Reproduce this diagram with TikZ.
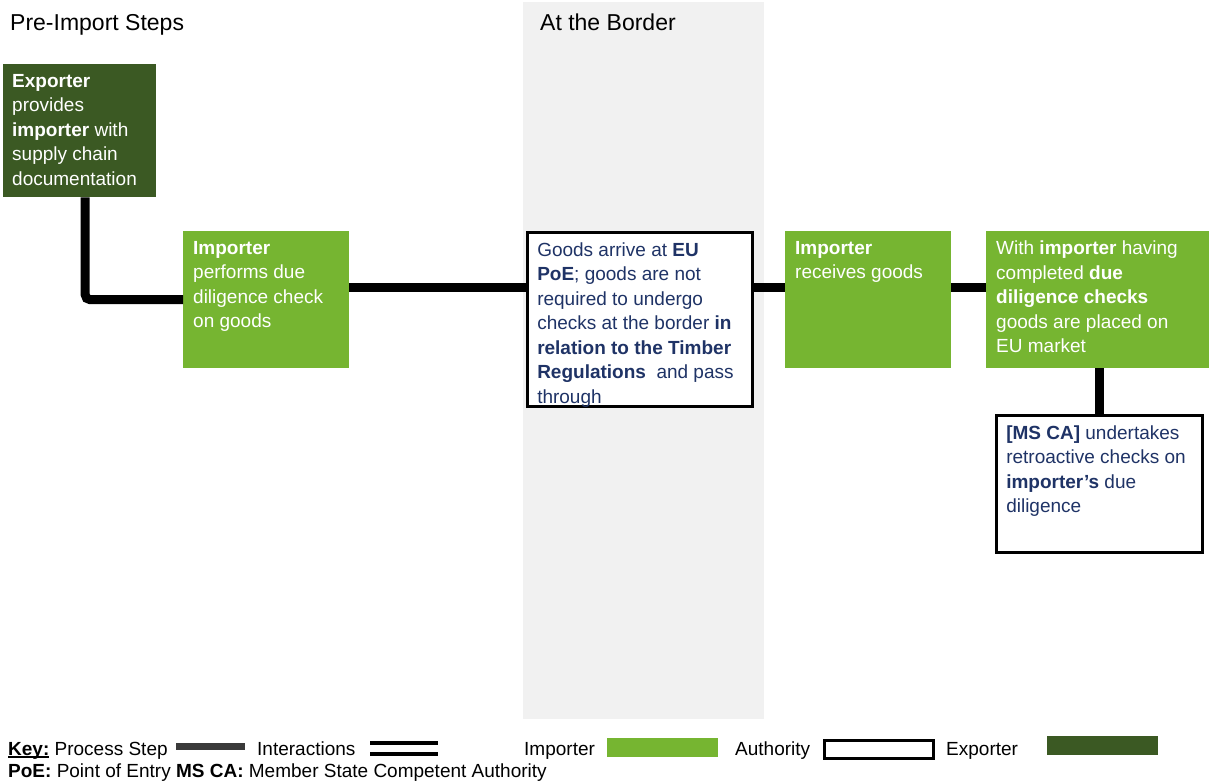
\documentclass[tikz,border=0pt]{standalone}
\usepackage{fontspec}
\setmainfont{Liberation Sans}
\usepackage{xcolor}
\usepackage{tikz}

\definecolor{impgreen}{HTML}{76B531}
\definecolor{expgreen}{HTML}{3B5923}
\definecolor{authnavy}{HTML}{1F3366}
\definecolor{bordergray}{HTML}{F1F1F1}
\definecolor{stepgray}{HTML}{3A3A3A}

\newcommand{\cellbody}[3]{\parbox[t][#1][t]{#2}{\raggedright #3}}
\newcommand{\keyrule}[1]{\setbox0\hbox{#1}\rlap{\rule[-2.5pt]{\wd0}{1.4pt}}\box0\relax}

\tikzset{
    boxbase/.style={font=\fontsize{19}{24.5}\selectfont, anchor=north west, inner xsep=10pt, inner ysep=10pt},
    importer/.style={boxbase, fill=impgreen, text=white},
    exporter/.style={boxbase, fill=expgreen, text=white, inner xsep=9pt},
    authority/.style={boxbase, fill=white, draw=black, line width=2.5pt, text=authnavy},
    process/.style={line width=9pt, black},
    heading/.style={font=\fontsize{23}{27}\selectfont, anchor=base west, inner sep=0pt},
    legend/.style={font=\fontsize{19}{24}\selectfont, anchor=base west, inner sep=0pt},
    swatch/.style={anchor=north west, inner sep=0pt, minimum width=111pt, minimum height=19pt}
}

\begin{document}
\begin{tikzpicture}[x=1pt, y=-1pt]
    \useasboundingbox (0,0) rectangle (1210,782);

    % Border column
    \fill[bordergray] (523,2) rectangle (764,719);

    % Headings
    \node[heading] (pre) at (10,30) {Pre-Import Steps};
    \node[heading] (border) at (540,30) {At the Border};

    % Steps
    \node[exporter] (exp) at (3,64) {\cellbody{113pt}{135pt}{\textbf{Exporter}\\ provides\\ \textbf{importer} with\\ supply chain\\ documentation}};
    \node[importer] (imp1) at (183,231) {\cellbody{117pt}{146pt}{\textbf{Importer}\\ performs due\\ diligence check\\ on goods}};
    \node[authority] (auth1) at (526,231) {\cellbody{154pt}{205pt}{Goods arrive at \textbf{EU}\\ \textbf{PoE}; goods are not\\ required to undergo\\ checks at the border \textbf{in}\\ \textbf{relation to the Timber}\\ \textbf{Regulations}\ \ and pass\\ through}};
    \node[importer] (imp2) at (785,231) {\cellbody{117pt}{146pt}{\textbf{Importer}\\ receives goods}};
    \node[importer] (imp3) at (986,231) {\cellbody{117pt}{203pt}{With \textbf{importer} having\\ completed \textbf{due}\\ \textbf{diligence checks}\\ goods are placed on\\ EU market}};
    \node[authority] (auth2) at (995,414) {\cellbody{117pt}{186pt}{\textbf{[MS CA]} undertakes\\ retroactive checks on\\ \textbf{importer’s} due\\ diligence}};

    % Process line
    \coordinate (flow) at (0,287);
    \draw[process, rounded corners=5pt] ([xshift=5.5pt]exp.south) |- (imp1.west);
    \draw[process] (imp1.east |- flow) -- (auth1.west |- flow);
    \draw[process] (auth1.east |- flow) -- (imp2.west |- flow);
    \draw[process] (imp2.east |- flow) -- (imp3.west |- flow);
    \draw[process] (auth2.north |- imp3.south) -- (auth2.north);

    % Key
    \node[legend] (key) at (8,755) {\keyrule{\textbf{Key:}} Process Step};
    \node[swatch, fill=stepgray, minimum width=69pt, minimum height=7pt] (keystep) at (176,743) {};
    \node[legend] (keyint) at (257,755) {Interactions};
    \node[swatch, fill=black, minimum width=68pt, minimum height=4pt] (keyinta) at (370,741) {};
    \node[swatch, fill=black, minimum width=68pt, minimum height=4pt] (keyintb) at (370,752) {};
    \node[legend] (keyimp) at (524,755) {Importer};
    \node[swatch, fill=impgreen] (keyimpbox) at (607,738) {};
    \node[legend] (keyauth) at (735,755) {Authority};
    \node[swatch, fill=white, draw=black, line width=2.5pt, minimum width=109pt, minimum height=18pt] (keyauthbox) at (823,739) {};
    \node[legend] (keyexp) at (946,755) {Exporter};
    \node[swatch, fill=expgreen] (keyexpbox) at (1047,736) {};
    \node[legend] (abbr) at (8,777) {\textbf{PoE:} Point of Entry \textbf{MS CA:} Member State Competent Authority};
\end{tikzpicture}
\end{document}
